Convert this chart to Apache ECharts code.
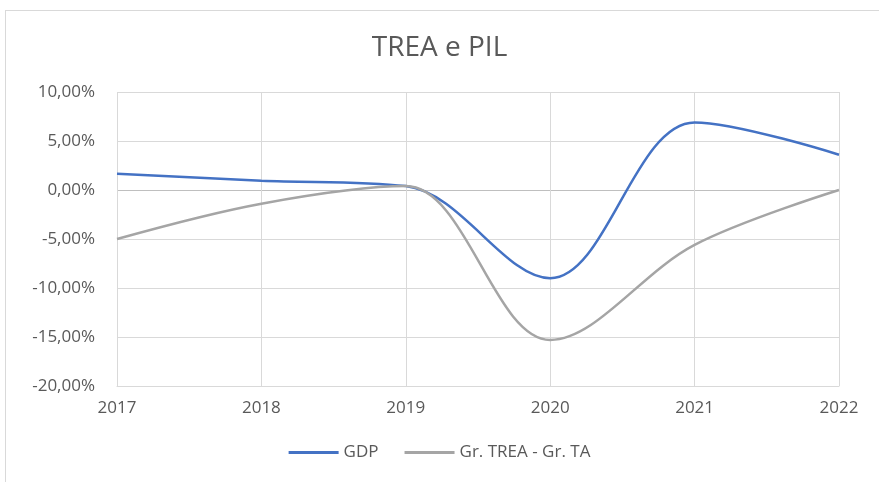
<!DOCTYPE html>
<html>
<head>
<meta charset="utf-8">
<script src="https://cdn.jsdelivr.net/npm/echarts@6/dist/echarts.min.js"></script>
<style>
  body { margin: 0; background: #fff; }
  #frame { position: absolute; left: 5px; top: 10px; width: 880px; height: 480px; border: 1px solid #d9d9d9; }
  #chart { position: absolute; left: 0; top: 0; width: 879px; height: 482px; }
</style>
</head>
<body>
<div id="frame"></div>
<div id="chart"></div>
<script>
// data (percent)
var years = ['2017', '2018', '2019', '2020', '2021', '2022'];
var gdp = [1.65, 0.95, 0.4, -9.0, 6.9, 3.6];
var trea = [-5.0, -1.4, 0.4, -15.3, -5.6, 0.0];

var myChart = echarts.init(document.getElementById('chart'));

var labelFont = '"Open Sans", "Noto Sans", sans-serif';

var option = {
    title: {
        text: 'TREA e PIL',
        left: 'center',
        top: 29,
        textStyle: { fontFamily: labelFont, fontSize: 28, fontWeight: 'normal', color: '#595959' }
    },
    legend: {
        bottom: 16,
        left: 'center',
        itemWidth: 50,
        itemHeight: 3,
        itemGap: 26,
        textStyle: { fontFamily: labelFont, fontSize: 17, color: '#595959' },
        data: [
            { name: 'GDP', icon: 'rect' },
            { name: 'Gr. TREA - Gr. TA', icon: 'rect' }
        ]
    },
    grid: { left: 117, right: 40, top: 92, bottom: 96 },
    xAxis: {
        type: 'category',
        data: years,
        boundaryGap: false,
        axisLine: { onZero: false, lineStyle: { color: '#d9d9d9' } },
        axisTick: { show: false },
        axisLabel: { fontFamily: labelFont, fontSize: 17, color: '#595959', margin: 14 },
        splitLine: { show: true, lineStyle: { color: '#d9d9d9' } }
    },
    yAxis: {
        type: 'value',
        min: -20,
        max: 10,
        interval: 5,
        axisLine: { show: false },
        axisTick: { show: false },
        axisLabel: {
            fontFamily: labelFont, fontSize: 17, color: '#595959', margin: 22,
            formatter: function (v) { return v.toFixed(2).replace('.', ',') + '%'; }
        },
        splitLine: {
            lineStyle: { color: ['#d9d9d9', '#d9d9d9', '#d9d9d9', '#d9d9d9', '#bfbfbf', '#d9d9d9', '#d9d9d9'] }
        }
    },
    series: [
        {
            name: 'GDP',
            type: 'line',
            data: gdp,
            smooth: 0.35,
            symbol: 'none',
            lineStyle: { color: '#4472C4', width: 2.5 },
            itemStyle: { color: '#4472C4' }
        },
        {
            name: 'Gr. TREA - Gr. TA',
            type: 'line',
            data: trea,
            smooth: 0.35,
            symbol: 'none',
            lineStyle: { color: '#A5A5A5', width: 2.5 },
            itemStyle: { color: '#A5A5A5' }
        }
    ]
};

myChart.setOption(option);
</script>
</body>
</html>
